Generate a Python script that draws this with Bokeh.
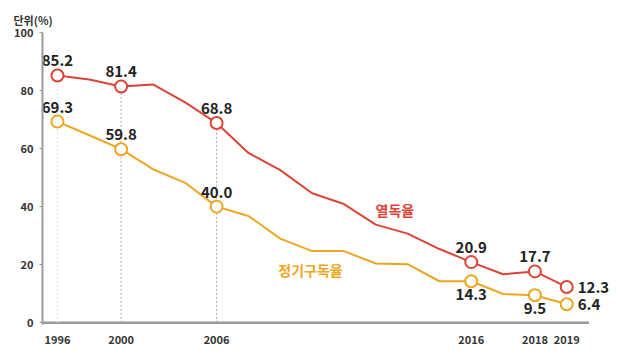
from bokeh.plotting import figure
from bokeh.models import ColumnDataSource, Range1d, FixedTicker, Label
from bokeh.core.properties import value
from bokeh.embed import file_html
from bokeh.resources import INLINE

years = ["1996", "1998", "2000", "2002", "2004", "2006", "2008", "2010", "2011",
         "2012", "2013", "2014", "2015", "2016", "2017", "2018", "2019"]
reading = [85.2, 83.8, 81.4, 82.1, 76.0, 68.8, 58.5, 52.6, 44.6,
           40.9, 33.8, 30.7, 25.4, 20.9, 16.7, 17.7, 12.3]
subscription = [69.3, 64.6, 59.8, 52.9, 48.3, 40.0, 36.8, 29.0, 24.7,
                 24.7, 20.4, 20.2, 14.3, 14.3, 9.9, 9.5, 6.4]
labeled_years = ["1996", "2000", "2006", "2016", "2018", "2019"]
dotted_years = ["1996", "2000", "2006"]
dotted_colors = ["#e2e2e2", "#aaaaaa", "#aaaaaa"]
y_ticks = [0, 20, 40, 60, 80, 100]
reading_name = "열독율"
subscription_name = "정기구독율"
unit_text = "단위(%)"

RED = "#DD4436"
ORANGE = "#EEA621"
FONT = "Noto Sans CJK KR"
AXIS_END = 16.7

idx = list(range(len(years)))
pos = {y: i for i, y in enumerate(years)}

p = figure(width=617, height=348, output_backend="svg", toolbar_location=None,
           x_range=Range1d(-0.47, 17.5), y_range=Range1d(-0.6, 100),
           min_border_left=42, min_border_top=32, min_border_right=3,
           min_border_bottom=24, title=unit_text)
p.outline_line_color = None
p.xgrid.visible = False
p.ygrid.visible = False
p.background_fill_color = "white"
p.border_fill_color = "white"

p.title.text_font = FONT
p.title.text_font_size = "11px"
p.title.text_font_style = "bold"
p.title.text_color = "#333333"
p.title.align = "left"
p.title.offset = -29
p.title.standoff = 9

# axes
p.xaxis.ticker = FixedTicker(ticks=[pos[y] for y in labeled_years])
p.xaxis.major_label_overrides = {pos[y]: y for y in labeled_years}
p.xaxis.axis_line_color = None
p.xaxis.major_tick_line_color = None
p.xaxis.minor_tick_line_color = None
p.xaxis.major_label_standoff = 4
p.xaxis.major_label_text_font = FONT
p.xaxis.major_label_text_font_size = "11px"
p.xaxis.major_label_text_font_style = "bold"
p.xaxis.major_label_text_color = "#333333"

p.yaxis.ticker = FixedTicker(ticks=y_ticks)
p.yaxis.axis_line_color = "#9a9a9a"
p.yaxis.axis_line_width = 2
p.yaxis.major_tick_line_color = "#9a9a9a"
p.yaxis.major_tick_out = 3
p.yaxis.major_tick_in = 0
p.yaxis.minor_tick_line_color = None
p.yaxis.major_label_standoff = 6
p.yaxis.major_label_text_font = FONT
p.yaxis.major_label_text_font_size = "11px"
p.yaxis.major_label_text_font_style = "bold"
p.yaxis.major_label_text_color = "#333333"

# x axis baseline drawn as a segment so it stops before the right-hand labels
p.segment(x0=[-0.47], y0=[0], x1=[AXIS_END], y1=[0], line_color="#9a9a9a", line_width=2.5)

# dotted guide lines
dx = [pos[y] for y in dotted_years]
p.segment(x0=dx, y0=[0] * len(dx), x1=dx, y1=[reading[pos[y]] for y in dotted_years],
          line_color=dotted_colors, line_width=1, line_dash="2 2")

# lines
p.line(idx, reading, line_color=RED, line_width=2)
p.line(idx, subscription, line_color=ORANGE, line_width=2)

li = [pos[y] for y in labeled_years]
p.scatter(li, [reading[i] for i in li], size=12, marker="circle",
          fill_color="white", line_color=RED, line_width=2)
p.scatter(li, [subscription[i] for i in li], size=12, marker="circle",
          fill_color="white", line_color=ORANGE, line_width=2)

# value labels
last = pos["2019"]
above_r = [i for i in li if i != last]
above_o = [pos[y] for y in ["1996", "2000", "2006"]]
below_o = [pos[y] for y in ["2016", "2018"]]

def add_text(xs, ys, xoff, yoff, align, baseline, size="15px"):
    src = ColumnDataSource(dict(x=xs, y=ys, t=["%.1f" % v for v in ys]))
    p.text(x="x", y="y", text="t", source=src, x_offset=xoff, y_offset=yoff,
           text_align=align, text_baseline=baseline, text_font=value(FONT),
           text_font_size=size, text_font_style="bold", text_color="#222222")

add_text(above_r, [reading[i] for i in above_r], 0, -9, "center", "bottom")
add_text(above_o, [subscription[i] for i in above_o], 0, -9, "center", "bottom")
add_text(below_o, [subscription[i] for i in below_o], 0, 8, "center", "top")
add_text([last], [reading[last]], 11, 0, "left", "middle")
add_text([last], [subscription[last]], 11, 0, "left", "middle")

# series names
p.add_layout(Label(x=10.6, y=39.0, text=reading_name, text_font=FONT,
                   text_font_size="14px", text_font_style="bold", text_color=RED,
                   text_align="center", text_baseline="middle"))
p.add_layout(Label(x=7.95, y=18.3, text=subscription_name, text_font=FONT,
                   text_font_size="14px", text_font_style="bold", text_color=ORANGE,
                   text_align="center", text_baseline="middle"))

open("out.html", "w").write(file_html(p, INLINE))
